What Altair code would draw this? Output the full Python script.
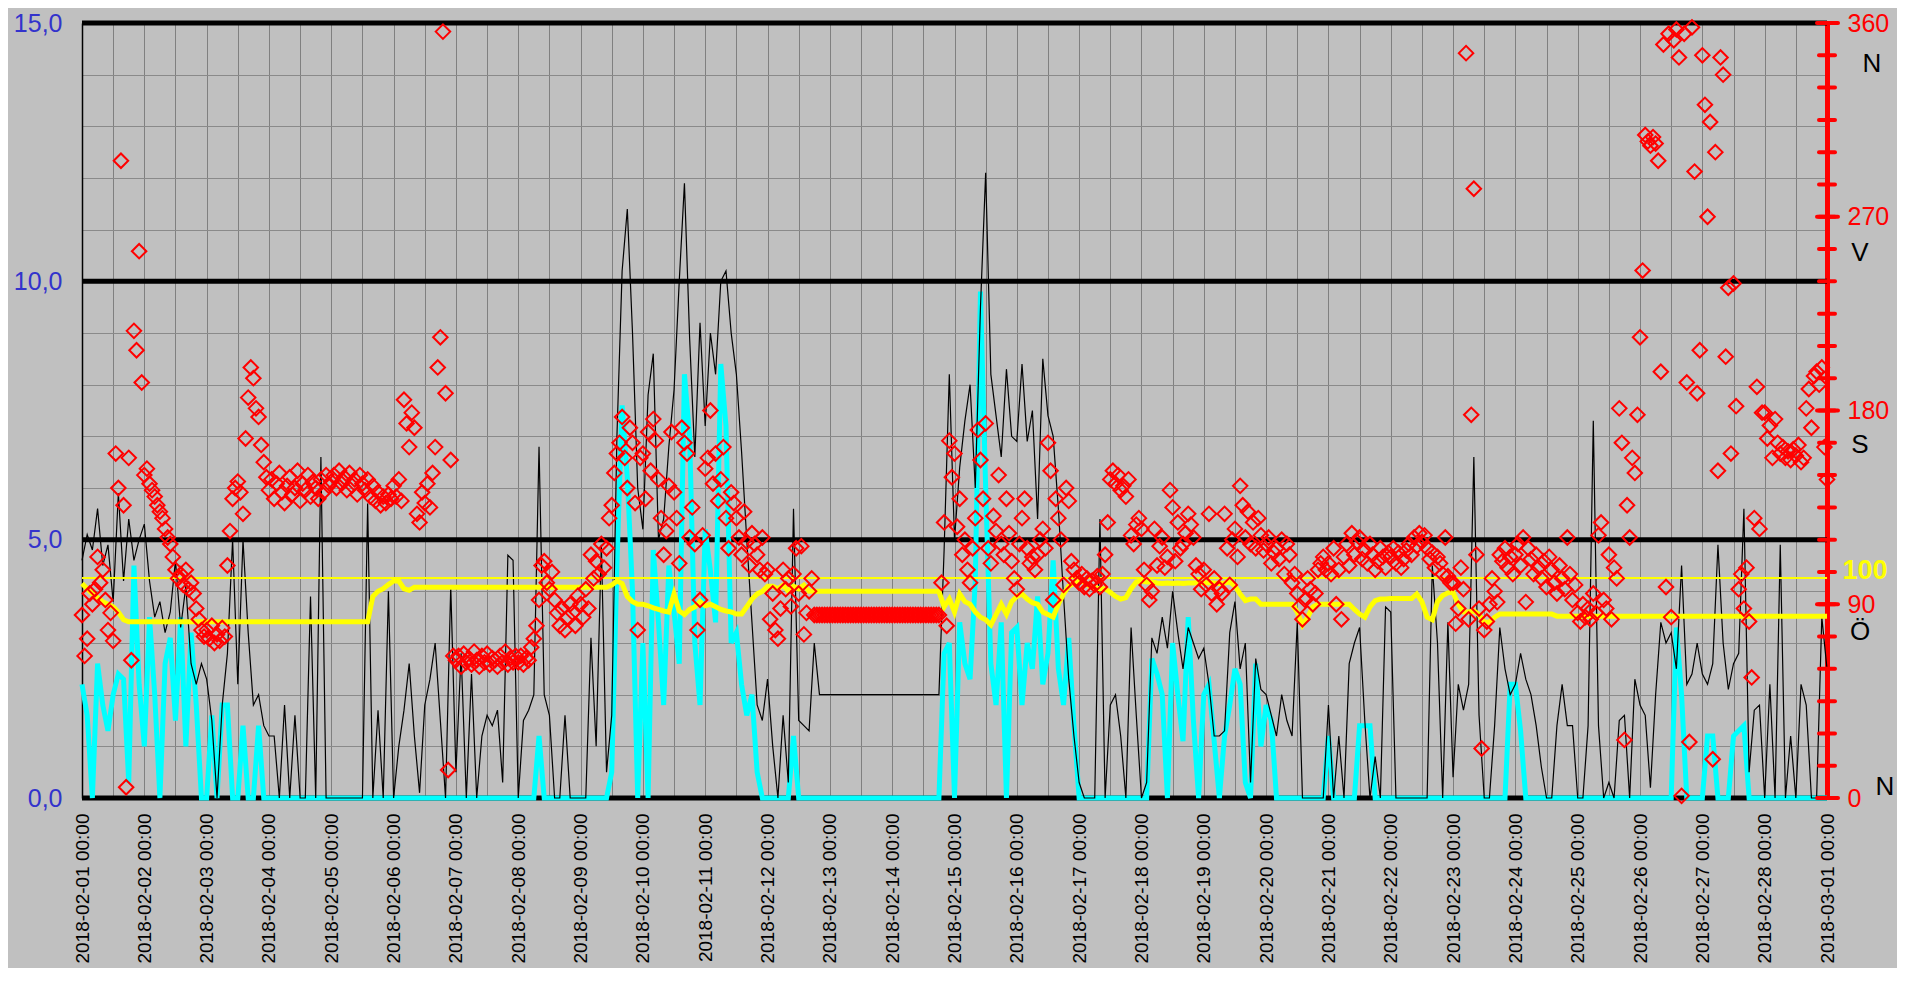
import altair as alt
import pandas as pd
from datetime import datetime, timedelta

FONT = "Liberation Sans, Arial, sans-serif"

# ---- wind gust (black), 2-hourly, one row per day (Feb 1 .. Feb 28) + Mar 1 00:00
GUST_DAYS = [
    [4.6, 5.1, 4.8, 5.6, 4.5, 4.9, 3.8, 5.9, 4.2, 5.4, 4.6, 5.0],
    [5.3, 4.2, 3.5, 3.8, 3.2, 3.6, 4.6, 3.3, 4.1, 2.6, 2.2, 2.6],
    [2.3, 1.5, 0.0, 1.8, 2.8, 5.0, 2.2, 5.0, 3.2, 1.8, 2.0, 1.4],
    [1.2, 1.2, 0.0, 1.8, 0.0, 1.6, 0.0, 0.0, 3.9, 0.0, 6.6, 0.0],
    [0.0, 0.0, 0.0, 0.0, 0.0, 0.0, 0.0, 5.7, 0.0, 1.7, 0.0, 4.0],
    [0.0, 1.0, 1.7, 2.6, 1.2, 0.1, 1.8, 2.3, 3.0, 1.5, 0.0, 4.1],
    [0.5, 2.8, 0.0, 2.4, 0.0, 1.2, 1.6, 1.4, 1.7, 0.3, 4.7, 4.6],
    [0.0, 1.5, 1.7, 2.0, 6.8, 2.0, 1.6, 0.0, 0.0, 1.6, 0.0, 0.0],
    [0.0, 0.0, 3.1, 1.0, 4.9, 0.5, 1.6, 7.0, 10.2, 11.4, 9.0, 6.0],
    [5.2, 7.8, 8.6, 5.0, 5.4, 6.8, 7.9, 10.0, 11.9, 8.9, 6.6, 9.2],
    [7.2, 9.0, 8.2, 10.0, 10.2, 9.0, 8.2, 6.7, 5.0, 3.4, 1.8, 1.5],
    [2.3, 1.0, 0.0, 1.6, 0.3, 5.6, 1.5, 1.4, 1.3, 3.0, 2.0, 2.0],
    [2.0, 2.0, 2.0, 2.0, 2.0, 2.0, 2.0, 2.0, 2.0, 2.0, 2.0, 2.0],
    [2.0, 2.0, 2.0, 2.0, 2.0, 2.0, 2.0, 2.0, 2.0, 2.0, 4.8, 8.2],
    [5.0, 6.4, 7.3, 8.0, 6.0, 9.5, 12.1, 8.2, 7.4, 6.6, 8.3, 7.0],
    [6.9, 8.4, 6.9, 7.5, 5.4, 8.5, 7.4, 7.0, 5.6, 3.9, 2.3, 1.2],
    [0.3, 0.0, 0.0, 0.0, 5.4, 0.0, 1.8, 2.0, 1.2, 0.0, 3.3, 1.6],
    [0.0, 0.3, 3.1, 2.8, 3.5, 2.9, 4.0, 3.2, 2.5, 3.3, 3.0, 2.7],
    [2.9, 2.2, 1.2, 1.2, 1.3, 3.2, 3.8, 2.5, 3.0, 0.3, 2.7, 2.1],
    [2.0, 1.6, 1.2, 2.0, 1.5, 1.2, 3.4, 0.0, 0.0, 0.0, 0.0, 0.0],
    [1.8, 0.0, 1.2, 0.0, 2.6, 3.0, 3.3, 1.5, 0.0, 0.8, 0.0, 3.7],
    [3.6, 0.0, 0.0, 0.0, 0.0, 0.0, 0.0, 0.0, 4.5, 3.0, 0.0, 3.4],
    [0.4, 2.2, 1.7, 2.2, 6.6, 1.6, 0.0, 0.0, 1.4, 3.3, 2.5, 2.0],
    [2.2, 2.8, 2.3, 2.0, 1.4, 0.6, 0.0, 0.0, 1.4, 2.2, 1.4, 1.4],
    [0.0, 0.0, 1.4, 7.3, 1.4, 0.0, 0.3, 0.0, 1.5, 1.6, 0.0, 2.3],
    [1.8, 1.6, 0.2, 2.0, 3.4, 3.0, 3.2, 2.5, 4.5, 2.2, 2.4, 3.0],
    [2.4, 2.2, 2.6, 4.9, 3.0, 2.1, 2.6, 2.8, 5.6, 0.5, 1.7, 1.8],
    [0.0, 2.2, 0.0, 4.9, 0.0, 1.2, 0.0, 2.2, 1.8, 0.0, 0.0, 3.5],
]
GUST_END = 2.5

# ---- mean wind (cyan), 2-hourly
MEAN_DAYS = [
    [2.2, 1.6, 0.0, 2.6, 1.8, 1.3, 2.0, 2.4, 2.3, 0.3, 4.5, 2.2],
    [1.0, 3.5, 2.0, 0.0, 2.6, 3.1, 1.5, 3.5, 1.0, 3.2, 1.8, 0.0],
    [0.0, 1.6, 0.0, 1.8, 1.8, 0.0, 0.0, 1.4, 0.0, 0.0, 1.4, 0.0],
    [0, 0, 0, 0, 0, 0, 0, 0, 0, 0, 0, 0],
    [0, 0, 0, 0, 0, 0, 0, 0, 0, 0, 0, 0],
    [0, 0, 0, 0, 0, 0, 0, 0, 0, 0, 0, 0],
    [0, 0, 0, 0, 0, 0, 0, 0, 0, 0, 0, 0],
    [0, 0, 0, 0, 1.2, 0, 0, 0, 0, 0, 0, 0],
    [0, 0, 0, 0, 0, 0, 0.5, 4.5, 7.6, 6.2, 4.0, 0.0],
    [3.0, 0.0, 4.8, 3.4, 1.8, 4.5, 3.6, 2.6, 8.2, 7.0, 3.0, 1.8],
    [5.2, 4.4, 3.4, 8.4, 7.2, 3.0, 3.2, 2.2, 1.6, 2.0, 0.5, 0.0],
    [0, 0, 0, 0, 0, 1.2, 0, 0, 0, 0, 0, 0],
    [0, 0, 0, 0, 0, 0, 0, 0, 0, 0, 0, 0],
    [0, 0, 0, 0, 0, 0, 0, 0, 0, 0, 2.8, 3.0],
    [0.0, 3.4, 2.6, 2.3, 4.2, 9.8, 6.0, 2.6, 1.8, 3.4, 0.0, 3.2],
    [3.3, 1.8, 3.0, 2.5, 3.9, 2.2, 2.8, 4.6, 2.5, 1.8, 3.1, 1.4],
    [0, 0, 0, 0, 0, 0, 0, 0, 0, 0, 0, 0],
    [0, 0, 2.7, 2.4, 2.0, 0, 3.0, 2.0, 1.1, 3.5, 1.5, 0],
    [2.0, 2.2, 1.1, 0, 1.2, 1.8, 2.5, 2.2, 0.3, 0, 2.6, 1.0],
    [1.8, 1.5, 0, 0, 0, 0, 0, 0, 0, 0, 0, 0],
    [1.2, 0, 0, 0, 0, 0, 1.4, 1.4, 1.4, 0, 0, 0],
    [0, 0, 0, 0, 0, 0, 0, 0, 0, 0, 0, 0],
    [0, 0, 0, 0, 0, 0, 0, 0, 0, 0, 0, 2.2],
    [2.2, 1.3, 0, 0, 0, 0, 0, 0, 0, 0, 0, 0],
    [0, 0, 0, 0, 0, 0, 0, 0, 0, 0, 0, 0],
    [0, 0, 0, 0, 0, 0, 0, 3.3, 2.0, 0, 0, 0],
    [0, 1.2, 1.2, 0, 0, 0, 1.2, 1.3, 1.4, 0, 0, 0],
    [0, 0, 0, 0, 0, 0, 0, 0, 0, 0, 0, 0],
]
MEAN_END = 0.0

# ---- humidity line (yellow), 2-hourly, in left-axis units (100 % sits at HUM_REF)
HUM_DAYS = [
    [4.15, 4.05, 3.95, 3.88, 3.8, 3.75, 3.7, 3.6, 3.45, 3.41, 3.41, 3.41],
    [3.41, 3.41, 3.41, 3.41, 3.41, 3.41, 3.41, 3.41, 3.41, 3.41, 3.41, 3.41],
    [3.41, 3.41, 3.41, 3.41, 3.41, 3.41, 3.41, 3.41, 3.41, 3.41, 3.41, 3.41],
    [3.41, 3.41, 3.41, 3.41, 3.41, 3.41, 3.41, 3.41, 3.41, 3.41, 3.41, 3.41],
    [3.41, 3.41, 3.41, 3.41, 3.41, 3.41, 3.41, 3.41, 3.9, 4.0, 4.05, 4.13],
    [4.2, 4.2, 4.05, 4.02, 4.08, 4.08, 4.08, 4.08, 4.08, 4.08, 4.08, 4.08],
    [4.08, 4.08, 4.08, 4.08, 4.08, 4.08, 4.08, 4.08, 4.08, 4.08, 4.08, 4.08],
    [4.08, 4.08, 4.08, 4.08, 4.08, 4.08, 4.08, 4.08, 4.08, 4.08, 4.08, 4.08],
    [4.08, 4.08, 4.08, 4.08, 4.08, 4.08, 4.12, 4.2, 4.15, 3.9, 3.8, 3.75],
    [3.75, 3.72, 3.68, 3.65, 3.62, 3.6, 3.95, 3.62, 3.55, 3.65, 3.7, 3.8],
    [3.72, 3.75, 3.7, 3.65, 3.62, 3.6, 3.56, 3.56, 3.7, 3.85, 3.95, 4.0],
    [4.1, 4.1, 4.05, 4.12, 4.0, 4.1, 4.05, 4.12, 4.0, 4.0, 4.0, 4.0],
    [4.0, 4.0, 4.0, 4.0, 4.0, 4.0, 4.0, 4.0, 4.0, 4.0, 4.0, 4.0],
    [4.0, 4.0, 4.0, 4.0, 4.0, 4.0, 4.0, 4.0, 4.0, 4.0, 3.7, 3.85],
    [3.6, 3.95, 3.8, 3.75, 3.6, 3.5, 3.45, 3.35, 3.55, 3.75, 3.56, 3.8],
    [3.9, 3.95, 3.85, 3.78, 3.75, 3.6, 3.55, 3.5, 3.75, 3.95, 4.1, 4.15],
    [4.2, 4.18, 4.1, 4.07, 4.05, 4.05, 3.98, 3.9, 3.85, 3.88, 4.05, 4.18],
    [4.2, 4.18, 4.18, 4.16, 4.15, 4.16, 4.15, 4.16, 4.15, 4.16, 4.16, 4.17],
    [4.16, 4.17, 4.16, 4.15, 4.16, 4.18, 4.1, 3.95, 3.82, 3.85, 3.85, 3.75],
    [3.75, 3.75, 3.75, 3.75, 3.75, 3.75, 3.6, 3.35, 3.5, 3.7, 3.75, 3.75],
    [3.75, 3.75, 3.75, 3.75, 3.75, 3.65, 3.56, 3.5, 3.7, 3.82, 3.85, 3.85],
    [3.86, 3.86, 3.86, 3.86, 3.86, 3.95, 3.8, 3.5, 3.45, 3.8, 3.92, 3.97],
    [3.98, 3.75, 3.6, 3.6, 3.62, 3.55, 3.4, 3.4, 3.5, 3.56, 3.56, 3.56],
    [3.56, 3.56, 3.56, 3.56, 3.56, 3.56, 3.56, 3.56, 3.52, 3.52, 3.52, 3.52],
    [3.52, 3.52, 3.52, 3.52, 3.52, 3.52, 3.52, 3.52, 3.52, 3.52, 3.52, 3.52],
    [3.52, 3.52, 3.52, 3.52, 3.52, 3.52, 3.52, 3.52, 3.52, 3.52, 3.52, 3.52],
    [3.52, 3.52, 3.52, 3.52, 3.52, 3.52, 3.52, 3.52, 3.52, 3.52, 3.52, 3.52],
    [3.52, 3.52, 3.52, 3.52, 3.52, 3.52, 3.52, 3.52, 3.52, 3.52, 3.52, 3.52],
]
HUM_END = 3.52
HUM_REF = 4.26          # the thin yellow "100" line
HUM_REF_LABEL = "100"

# ---- wind direction (red diamonds), hourly, degrees
DIR_DAYS = [
    [85, 66, 74, 95, 90, 97, 112, 100, 106, 92, 78, 86, 73, 160, 144, 296, 136, 5, 158, 64, 217, 208, 254, 193],
    [150, 153, 146, 143, 140, 136, 133, 130, 125, 121, 118, 112, 106, 102, 104, 99, 106, 97, 100, 95, 88, 83, 78, 75],
    [78, 74, 80, 72, 76, 73, 79, 75, 108, 124, 139, 144, 147, 142, 132, 167, 186, 200, 195, 181, 177, 164, 156, 149],
    [143, 148, 139, 146, 151, 142, 137, 145, 149, 141, 144, 152, 138, 146, 143, 150, 140, 147, 144, 139, 148, 142, 150, 145],
    [147, 150, 144, 152, 146, 149, 143, 151, 145, 148, 141, 150, 146, 143, 148, 140, 145, 138, 142, 136, 140, 137, 141, 139],
    [145, 140, 148, 138, 185, 174, 163, 179, 172, 132, 128, 142, 137, 146, 135, 151, 163, 200, 214, 356, 188, 13, 157, 66],
    [64, 66, 61, 67, 63, 65, 62, 68, 64, 61, 66, 63, 67, 62, 65, 64, 61, 66, 63, 68, 62, 65, 63, 66],
    [63, 66, 62, 65, 64, 70, 74, 80, 92, 108, 110, 100, 97, 105, 92, 86, 80, 88, 78, 84, 90, 86, 80, 94],
    [90, 84, 97, 88, 113, 102, 110, 104, 118, 107, 116, 130, 136, 151, 160, 165, 177, 158, 144, 172, 165, 137, 78, 158],
    [160, 139, 170, 152, 176, 166, 148, 130, 113, 124, 145, 170, 142, 130, 109, 172, 165, 160, 121, 135, 118, 78, 92, 122],
    [153, 158, 180, 146, 160, 138, 148, 163, 130, 116, 142, 137, 130, 121, 113, 133, 119, 108, 123, 118, 113, 106, 121, 104],
    [106, 83, 95, 78, 74, 88, 106, 97, 102, 89, 104, 116, 95, 117, 76, 86, 96, 102, 85, 85, 85, 85, 85, 85],
    [85, 85, 85, 85, 85, 85, 85, 85, 85, 85, 85, 85, 85, 85, 85, 85, 85, 85, 85, 85, 85, 85, 85, 85],
    [85, 85, 85, 85, 85, 85, 85, 85, 85, 85, 85, 85, 85, 85, 85, 85, 85, 85, 85, 100, 128, 80, 166, 149],
    [160, 126, 139, 113, 120, 106, 100, 116, 130, 171, 157, 139, 174, 116, 109, 131, 124, 150, 118, 113, 139, 123, 110, 102],
    [97, 118, 130, 139, 116, 109, 112, 106, 113, 120, 125, 116, 165, 152, 92, 139, 130, 120, 99, 144, 138, 110, 106, 102],
    [100, 104, 98, 102, 97, 101, 99, 103, 98, 104, 113, 128, 148, 152, 146, 150, 143, 145, 140, 148, 122, 118, 127, 130],
    [125, 106, 99, 92, 96, 125, 108, 117, 121, 107, 112, 143, 135, 110, 128, 116, 118, 123, 132, 127, 121, 108, 104, 97],
    [106, 99, 132, 95, 102, 90, 97, 95, 132, 116, 99, 120, 125, 112, 145, 136, 121, 133, 118, 128, 116, 130, 122, 115],
    [118, 121, 109, 114, 116, 111, 120, 104, 118, 113, 100, 104, 95, 89, 83, 92, 102, 97, 90, 95, 106, 109, 112, 106],
    [109, 104, 116, 90, 106, 83, 112, 118, 108, 123, 113, 119, 121, 111, 115, 109, 118, 113, 106, 110, 116, 112, 107, 114],
    [112, 116, 109, 114, 107, 111, 115, 118, 113, 121, 117, 123, 119, 122, 116, 111, 114, 107, 112, 109, 104, 121, 103, 100],
    [100, 81, 88, 107, 97, 346, 83, 178, 283, 113, 88, 23, 78, 82, 90, 102, 96, 91, 113, 110, 116, 107, 112, 104],
    [113, 118, 108, 121, 91, 116, 111, 104, 113, 107, 102, 110, 98, 112, 106, 100, 95, 108, 102, 97, 121, 104, 92, 99],
    [86, 82, 90, 84, 88, 83, 95, 86, 122, 128, 92, 88, 113, 83, 107, 102, 181, 165, 27, 136, 121, 158, 151, 178],
    [214, 245, 308, 305, 303, 307, 304, 296, 198, 350, 98, 355, 84, 352, 357, 344, 1, 355, 193, 26, 358, 291, 188, 208],
    [345, 322, 270, 314, 18, 300, 152, 344, 336, 205, 237, 160, 239, 182, 97, 104, 88, 107, 82, 56, 130, 191, 125, 179],
    [179, 167, 173, 158, 176, 165, 160, 163, 158, 161, 157, 162, 159, 164, 156, 158, 181, 190, 172, 196, 198, 192, 200, 163],
]
DIR_END = 148

# ---- axes / labels
LEFT_MAJOR = [0, 5, 10, 15]
LEFT_MINOR = list(range(0, 16))
DEG_LABELS = [0, 90, 180, 270, 360]
DEG_TICKS = list(range(0, 361, 15))
COMPASS_TOP = ["N"]
COMPASS_TOP_DEG = [341]
COMPASS_MID = ["V", "S", "Ö"]
COMPASS_MID_DEG = [253, 164, 77]
COMPASS_BOT = ["N"]
COMPASS_BOT_DEG = [5]


def flatten(days, end, per_day):
    out = []
    for d in days:
        d = list(d)
        if len(d) < per_day:
            d = d + [d[-1]] * (per_day - len(d))
        out.extend(d[:per_day])
    out.append(end)
    return out


GUST = flatten(GUST_DAYS, GUST_END, 12)
MEAN = flatten(MEAN_DAYS, MEAN_END, 12)
HUM = flatten(HUM_DAYS, HUM_END, 12)
DIR = flatten(DIR_DAYS, DIR_END, 24)

t2 = pd.date_range("2018-02-01 00:00", periods=len(GUST), freq="2h").strftime("%Y-%m-%dT%H:%M:%S")
df2 = pd.DataFrame({"t": t2, "gust": GUST, "mean": MEAN, "hum": HUM})
t1 = pd.date_range("2018-02-01 00:00", periods=len(DIR), freq="h").strftime("%Y-%m-%dT%H:%M:%S")
df1 = pd.DataFrame({"t": t1, "deg": DIR})

W, H = 1745, 775

start = datetime(2018, 2, 1)
x_values = []
for i in range(57):
    d = start + timedelta(hours=12 * i)
    x_values.append(alt.DateTime(year=d.year, month=d.month, date=d.day, hours=d.hour))

X_SCALE = alt.Scale(domain=[alt.DateTime(year=2018, month=2, date=1),
                            alt.DateTime(year=2018, month=3, date=1)], nice=False)
X_AXIS = alt.Axis(values=x_values,
                  labelExpr="hours(datum.value) == 0 ? timeFormat(datum.value, '%Y-%m-%d %H:%M') : ''",
                  labelAngle=270, labelAlign="right", labelBaseline="middle",
                  labelFontSize=19, labelFont=FONT, labelColor="black", labelPadding=15,
                  labelOverlap=False, labelFlush=False, ticks=False, domain=False,
                  grid=True, gridColor="#808080", gridWidth=1, title=None)

LEFT_SCALE = alt.Scale(domain=[0, 15], nice=False, zero=True)
LEFT_AXIS = alt.Axis(orient="left", values=LEFT_MINOR,
                     labelExpr="datum.value % 5 == 0 ? replace(format(datum.value, '.1f'), '.', ',') : ''",
                     grid=True, gridColor="#8a8a8a", gridWidth=1, ticks=False,
                     domain=True, domainColor="black", domainWidth=1.5,
                     labelColor="#3333CC", labelFontSize=25, labelFont=FONT, labelPadding=20,
                     labelOverlap=False, labelFlush=False, title=None)

RIGHT_SCALE = alt.Scale(domain=[0, 360], nice=False, zero=True)
RIGHT_AXIS = alt.Axis(orient="right", values=DEG_LABELS, ticks=False,
                      domain=True, domainColor="#FF0000", domainWidth=5,
                      labelColor="#FF0000", labelFontSize=25, labelFont=FONT, labelPadding=20,
                      labelOverlap=False, labelFlush=False, grid=False, title=None)

X = alt.X("t:T", scale=X_SCALE, axis=X_AXIS)

major = alt.Chart(pd.DataFrame({"v": LEFT_MAJOR})).mark_rule(color="black", strokeWidth=5).encode(
    y=alt.Y("v:Q", scale=LEFT_SCALE, axis=LEFT_AXIS))
cyan = alt.Chart(df2).mark_line(color="#00FFFF", strokeWidth=5).encode(
    x=X, y=alt.Y("mean:Q", scale=LEFT_SCALE, axis=LEFT_AXIS))
black = alt.Chart(df2).mark_line(color="black", strokeWidth=1.2).encode(
    x=X, y=alt.Y("gust:Q", scale=LEFT_SCALE, axis=LEFT_AXIS))
yellow = alt.Chart(df2).mark_line(color="#FFFF00", strokeWidth=5).encode(
    x=X, y=alt.Y("hum:Q", scale=LEFT_SCALE, axis=LEFT_AXIS))
ref_df = pd.DataFrame({"v": [HUM_REF], "label": [HUM_REF_LABEL]})
yellow_ref = alt.Chart(ref_df).mark_rule(color="#FFFF00", strokeWidth=2).encode(
    y=alt.Y("v:Q", scale=LEFT_SCALE, axis=LEFT_AXIS))
yellow_txt = alt.Chart(ref_df).mark_text(color="#FFFF00", fontWeight="bold", fontSize=27, font=FONT,
                                         align="center", baseline="middle", dy=-7).encode(
    y=alt.Y("v:Q", scale=LEFT_SCALE, axis=LEFT_AXIS), x=alt.value(W + 38), text="label:N")

left = alt.layer(major, cyan, black, yellow, yellow_ref, yellow_txt)

red = alt.Chart(df1).mark_point(shape="diamond", filled=False, color="#FF0000",
                                strokeWidth=2, size=210, opacity=1).encode(
    x=X, y=alt.Y("deg:Q", scale=RIGHT_SCALE, axis=RIGHT_AXIS))
ticks_minor = alt.Chart(pd.DataFrame({"deg": DEG_TICKS})).mark_rule(
    color="#FF0000", strokeWidth=4, strokeCap="round").encode(
    y=alt.Y("deg:Q", scale=RIGHT_SCALE, axis=RIGHT_AXIS), x=alt.value(W - 8), x2=alt.value(W + 8))
ticks_major = alt.Chart(pd.DataFrame({"deg": DEG_LABELS})).mark_rule(
    color="#FF0000", strokeWidth=4, strokeCap="round").encode(
    y=alt.Y("deg:Q", scale=RIGHT_SCALE, axis=RIGHT_AXIS), x=alt.value(W - 10), x2=alt.value(W + 11))


def compass(labels, degs, xoff):
    return alt.Chart(pd.DataFrame({"c": labels, "deg": degs})).mark_text(
        color="black", fontSize=26, font=FONT, align="center", baseline="middle").encode(
        y=alt.Y("deg:Q", scale=RIGHT_SCALE, axis=RIGHT_AXIS), x=alt.value(W + xoff), text="c:N")


right = alt.layer(red, ticks_minor, ticks_major,
                  compass(COMPASS_TOP, COMPASS_TOP_DEG, 45),
                  compass(COMPASS_MID, COMPASS_MID_DEG, 33),
                  compass(COMPASS_BOT, COMPASS_BOT_DEG, 58))

chart = alt.layer(left, right).resolve_scale(y="independent").properties(
    width=W, height=H,
    autosize=alt.AutoSizeParams(type="none"),
    padding={"left": 74, "top": 15, "right": 70, "bottom": 170},
    background="#C0C0C0",
).configure_view(strokeWidth=0, fill="#C0C0C0")

chart.save("out.html", embed_options={"renderer": "svg", "actions": False})
